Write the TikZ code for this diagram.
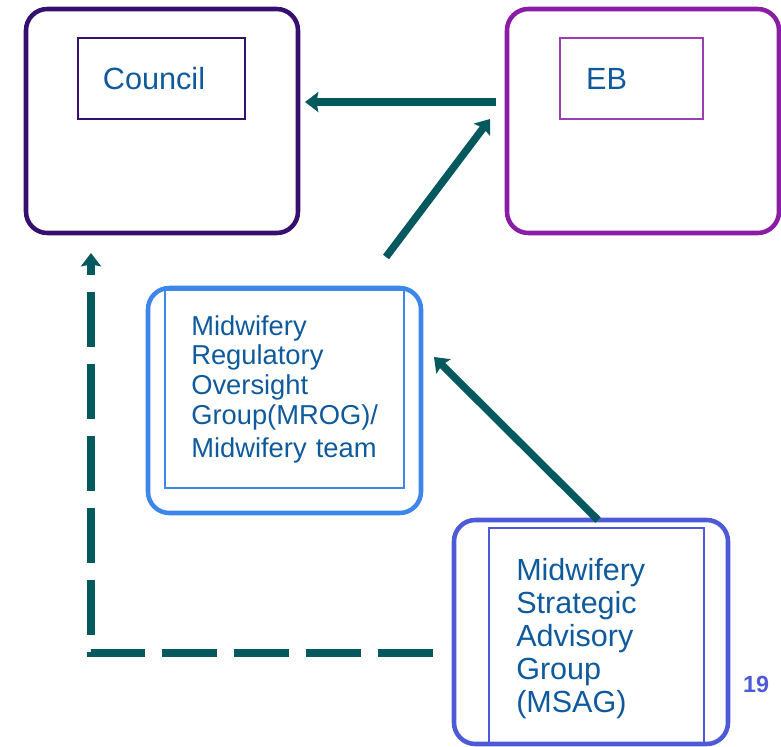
\documentclass[tikz,border=0pt]{standalone}
\usepackage{fontspec}
\setmainfont{Liberation Sans}
\usetikzlibrary{arrows.meta}

\definecolor{councilpurple}{HTML}{35106F}
\definecolor{ebpurple}{HTML}{8A1CA5}
\definecolor{ebinner}{HTML}{9B3DB3}
\definecolor{mrogblue}{HTML}{3D87EA}
\definecolor{msagblue}{HTML}{4E5AD6}
\definecolor{labelblue}{HTML}{0F5A9C}
\definecolor{flowteal}{HTML}{03595E}

\tikzset{
  frame/.style={draw, line width=3.4pt, rounded corners=16pt, inner sep=0pt, outer sep=0pt},
  innerbox/.style={draw, line width=1.1pt, inner sep=0pt, outer sep=0pt},
  boxtext/.style={inner sep=0pt, text=labelblue},
  flow/.style={draw=flowteal, line width=5.6pt,
    -{Stealth[length=10pt,width=15pt,inset=1.5pt]}},
  feedback/.style={flow, dash pattern=on 41.25pt off 12.75pt}
}

\begin{document}
\begin{tikzpicture}[x=0.75pt,y=-0.75pt]
\useasboundingbox (0,0) rectangle (781,746);

% Council
\node[frame, draw=councilpurple, minimum width=204pt, minimum height=168pt]
  (councilframe) at (162,121) {};
\node[innerbox, draw=councilpurple, minimum width=125.25pt, minimum height=60.75pt]
  (councilbox) at (161.5,78.5) {};
\node[boxtext, anchor=base, font=\fontsize{23}{27}\selectfont]
  (councillabel) at (154,89) {Council};

% Executive board
\node[frame, draw=ebpurple, minimum width=204pt, minimum height=168pt]
  (ebframe) at (643,121) {};
\node[innerbox, draw=ebinner, minimum width=107.25pt, minimum height=60.75pt]
  (ebbox) at (631.5,78.5) {};
\node[boxtext, anchor=base, font=\fontsize{23}{27}\selectfont]
  (eblabel) at (606.5,89) {EB};

% Midwifery Regulatory Oversight Group
\node[frame, draw=mrogblue, minimum width=204.75pt, minimum height=168.75pt]
  (mrogframe) at (284.5,400.5) {};
\node[innerbox, draw=mrogblue, minimum width=179.25pt, minimum height=148.5pt]
  (mrogbox) at (284.5,389) {};
\node[boxtext, anchor=base west, text width=170pt, align=left,
      font=\fontsize{20.5}{22.3}\selectfont]
  (mroglabel) at (191,335)
  {Midwifery\\Regulatory\\Oversight\\Group(MROG)/\\[2.5pt]Midwifery team};

% Midwifery Strategic Advisory Group
\node[frame, draw=msagblue, minimum width=205.5pt, minimum height=168pt]
  (msagframe) at (591,632) {};
\node[innerbox, draw=msagblue, minimum width=161.25pt, minimum height=162pt]
  (msagbox) at (596.5,636) {};
\node[boxtext, anchor=base west, text width=150pt, align=left,
      font=\fontsize{22.9}{24.75}\selectfont]
  (msaglabel) at (516,580)
  {Midwifery\\Strategic\\Advisory\\Group\\(MSAG)};

% Page number
\node[inner sep=0pt, anchor=base, text=msagblue, font=\fontsize{17.5}{20}\selectfont\bfseries]
  (pagenum) at (756,692) {19};

% Reporting lines
\draw[flow] ([shift={(-11,-19)}]ebframe.west) -- ([shift={(7,-19)}]councilframe.east);
\draw[flow] ([shift={(-35,-31)}]mrogframe.north east) -- ([shift={(-17,-114)}]ebframe.south west);
\draw[flow] ([shift={(7,0)}]msagframe.north) -- ([shift={(13,-43.5)}]mrogframe.east);
\draw[feedback] ([shift={(-21,21)}]msagframe.west) -| ([shift={(-71,20)}]councilframe.south);
\end{tikzpicture}
\end{document}
